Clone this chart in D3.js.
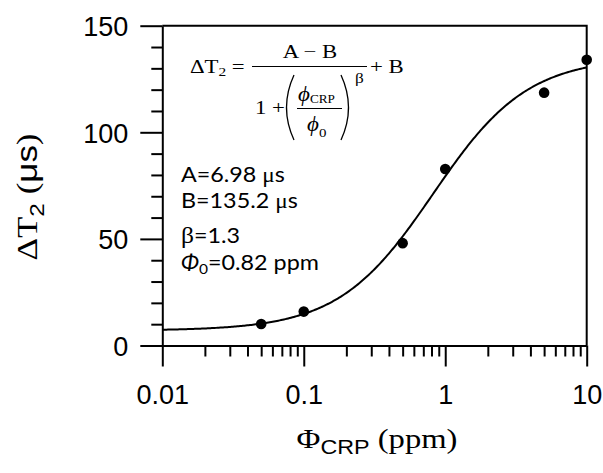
<!DOCTYPE html>
<html>
<head>
<meta charset="utf-8">
<script src="https://cdn.jsdelivr.net/npm/d3@7"></script>
<style>
  html, body { margin: 0; padding: 0; background: #fff; }
  svg { display: block; }
</style>
</head>
<body>
<svg id="chart" width="603" height="473"></svg>
<script>
// Measured CRP concentrations (ppm) and the T2 shift (µs)
const concentrations = [0.05, 0.1, 0.5, 1, 5, 10];
const deltaT2 = [10.1, 15.9, 48.0, 82.8, 118.6, 134.0];

// Logistic fit parameters
const fitA = 6.98;
const fitB = 135.2;
const fitBeta = 1.3;
const fitPhi0 = 0.82;

// Axis ticks
const xMajorTicks = [0.01, 0.1, 1, 10];
const xTickLabels = ["0.01", "0.1", "1", "10"];
const yMajorTicks = [0, 50, 100, 150];
const yTickLabels = ["0", "50", "100", "150"];

const svg = d3.select("#chart");
const plotLeft = 162.3, plotRight = 586.7, plotTop = 25.7, plotBottom = 345.5;

const x = d3.scaleLog().domain([0.01, 10]).range([plotLeft, plotRight]);
const y = d3.scaleLinear().domain([0, 150]).range([plotBottom, plotTop]);

const SANS = "'Liberation Sans', Arial, sans-serif";
const SERIF = "'Liberation Serif', 'Times New Roman', serif";
const NOTE = "Lato, 'Open Sans', sans-serif";

// Minor ticks: 2..9 within each decade, every 10 on the y axis
const xMinor = [];
for (let d = 0.01; d < 10; d *= 10) for (let k = 2; k <= 9; k++) xMinor.push(+(d * k).toPrecision(3));
const yMinor = d3.range(0, 151, 10).filter(v => v % 50 !== 0);

// Bottom axis
const xAxisMajor = d3.axisBottom(x).tickValues(xMajorTicks)
  .tickFormat((d, i) => xTickLabels[i]).tickSizeInner(21).tickSizeOuter(0).tickPadding(8);
const gx = svg.append("g").attr("transform", `translate(0,${plotBottom})`).call(xAxisMajor);
gx.append("g").call(d3.axisBottom(x).tickValues(xMinor).tickFormat("").tickSizeInner(11).tickSizeOuter(0))
  .select(".domain").remove();

// Left axis
const yAxisMajor = d3.axisLeft(y).tickValues(yMajorTicks)
  .tickFormat((d, i) => yTickLabels[i]).tickSizeInner(22).tickSizeOuter(0).tickPadding(12);
const gy = svg.append("g").attr("transform", `translate(${plotLeft},0)`).call(yAxisMajor);
gy.append("g").call(d3.axisLeft(y).tickValues(yMinor).tickFormat("").tickSizeInner(11).tickSizeOuter(0))
  .select(".domain").remove();

svg.selectAll(".tick line").attr("stroke", "#000").attr("stroke-width", 2);
svg.selectAll(".domain").attr("stroke", "#000").attr("stroke-width", 2);
svg.selectAll(".tick text").attr("font-family", SANS).attr("font-size", 27).attr("fill", "#000");
gx.selectAll(".tick text").attr("dy", null).attr("y", 58).attr("dominant-baseline", "alphabetic");
gy.selectAll(".tick text").attr("dy", "0.36em");

// Closing top and right frame lines
svg.append("path")
  .attr("d", `M${plotLeft},${plotTop}H${plotRight}V${plotBottom}`)
  .attr("fill", "none").attr("stroke", "#000").attr("stroke-width", 2);

// Fitted curve
const model = c => (fitA - fitB) / (1 + Math.pow(c / fitPhi0, fitBeta)) + fitB;
const curveX = d3.range(0, 301).map(i => Math.pow(10, -2 + 3 * i / 300));
svg.append("path")
  .datum(curveX)
  .attr("d", d3.line().x(c => x(c)).y(c => y(model(c))))
  .attr("fill", "none").attr("stroke", "#000").attr("stroke-width", 2);

// Data points
svg.append("g").selectAll("circle")
  .data(concentrations.map((c, i) => [c, deltaT2[i]]))
  .join("circle")
  .attr("cx", d => x(d[0])).attr("cy", d => y(d[1])).attr("r", 5.3).attr("fill", "#000");

// Horizontal stretch of a text element about an anchor point
function stretch(sel, s, ax, ay) {
  sel.attr("transform", `translate(${ax},${ay}) scale(${s},1) translate(${-ax},${-ay})`);
}
// Stretch so that the rendered width equals `w`
function fitWidth(sel, w, ax, ay) {
  const s = w / sel.node().getBBox().width;
  stretch(sel, s, ax, ay);
  return s;
}

// Axis titles
const xt = svg.append("text").attr("x", 377).attr("y", 448).attr("text-anchor", "middle")
  .attr("font-family", SERIF).attr("font-size", 28).attr("fill", "#000");
xt.append("tspan").text("Φ");
xt.append("tspan").attr("font-family", SANS).attr("font-size", 20).attr("dy", 6).text("CRP");
xt.append("tspan").attr("dy", -6).text(" (ppm)");
fitWidth(xt, 161, 377, 448);

const yg = svg.append("g").attr("transform", "translate(37,197) rotate(-90)");
const yt = yg.append("text").attr("x", 0).attr("y", 0).attr("text-anchor", "middle")
  .attr("font-family", SERIF).attr("font-size", 30).attr("fill", "#000");
yt.append("tspan").text("ΔT");
yt.append("tspan").attr("font-family", SANS).attr("font-size", 21).attr("dy", 7).text("2");
yt.append("tspan").attr("dy", -7).text(" (");
yt.append("tspan").attr("font-family", SANS).text("μs");
yt.append("tspan").text(")");
fitWidth(yt, 127, 0, 0);

// Fit equation (serif, slightly wide)
const EQS = 1.23;
const eq = svg.append("g").attr("font-family", SERIF).attr("fill", "#000");
const e1 = eq.append("text").attr("x", 190).attr("y", 73).attr("font-size", 18.5);
e1.append("tspan").text("ΔT");
e1.append("tspan").attr("font-size", 12.5).attr("dy", 3.5).text("2");
e1.append("tspan").attr("dy", -3.5).text(" = ");
stretch(e1, EQS, 190, 73);
const eNum = eq.append("text").attr("x", 310).attr("y", 58).attr("font-size", 18.5).attr("text-anchor", "middle").text("A − B");
stretch(eNum, EQS, 310, 58);
eq.append("line").attr("x1", 252).attr("x2", 367).attr("y1", 66.5).attr("y2", 66.5).attr("stroke", "#000").attr("stroke-width", 1);
const ePlus = eq.append("text").attr("x", 370).attr("y", 73).attr("font-size", 18.5).text("+ B");
stretch(ePlus, EQS, 370, 73);
const eOne = eq.append("text").attr("x", 255).attr("y", 114).attr("font-size", 18.5).text("1 +");
stretch(eOne, EQS, 255, 114);
eq.append("path").attr("d", "M294,75 Q279,107.5 294,140").attr("fill", "none").attr("stroke", "#000").attr("stroke-width", 1.3);
eq.append("path").attr("d", "M341,75 Q356,107.5 341,140").attr("fill", "none").attr("stroke", "#000").attr("stroke-width", 1.3);
const num = eq.append("text").attr("x", 298).attr("y", 101).attr("font-size", 20);
num.append("tspan").attr("font-style", "italic").text("ϕ");
num.append("tspan").attr("font-size", 11.5).attr("dy", 2).text("CRP");
stretch(num, 1.15, 298, 101);
eq.append("line").attr("x1", 297).attr("x2", 342).attr("y1", 108.5).attr("y2", 108.5).attr("stroke", "#000").attr("stroke-width", 1);
const den = eq.append("text").attr("x", 307).attr("y", 131).attr("font-size", 20);
den.append("tspan").attr("font-style", "italic").text("ϕ");
den.append("tspan").attr("font-size", 13).attr("dy", 6).text("0");
stretch(den, 1.15, 307, 131);
const eBeta = eq.append("text").attr("x", 355).attr("y", 83).attr("font-size", 14).text("β");
stretch(eBeta, EQS, 355, 83);

// Fit parameter notes
const notes = svg.append("g").attr("font-family", NOTE).attr("font-size", 21).attr("fill", "#000");
const n1 = notes.append("text").attr("x", 181).attr("y", 182);
n1.append("tspan").text(`A=${fitA} `);
n1.append("tspan").attr("font-family", SERIF).text("μ");
n1.append("tspan").text("s");
const n2 = notes.append("text").attr("x", 181).attr("y", 208.5);
n2.append("tspan").text(`B=${fitB} `);
n2.append("tspan").attr("font-family", SERIF).text("μ");
n2.append("tspan").text("s");
const n3 = notes.append("text").attr("x", 181).attr("y", 243.5);
n3.append("tspan").attr("font-family", SERIF).attr("font-size", 23).text("β");
n3.append("tspan").text(`=${fitBeta}`);
const n4 = notes.append("text").attr("x", 181).attr("y", 270);
n4.append("tspan").attr("font-style", "italic").text("Φ");
n4.append("tspan").attr("font-size", 14).attr("dy", 4).text("0");
n4.append("tspan").attr("dy", -4).text(`=${fitPhi0} ppm`);
const noteScale = fitWidth(n1, 104, 181, 0);
[n2, n3, n4].forEach(n => stretch(n, noteScale, 181, 0));
</script>
</body>
</html>
